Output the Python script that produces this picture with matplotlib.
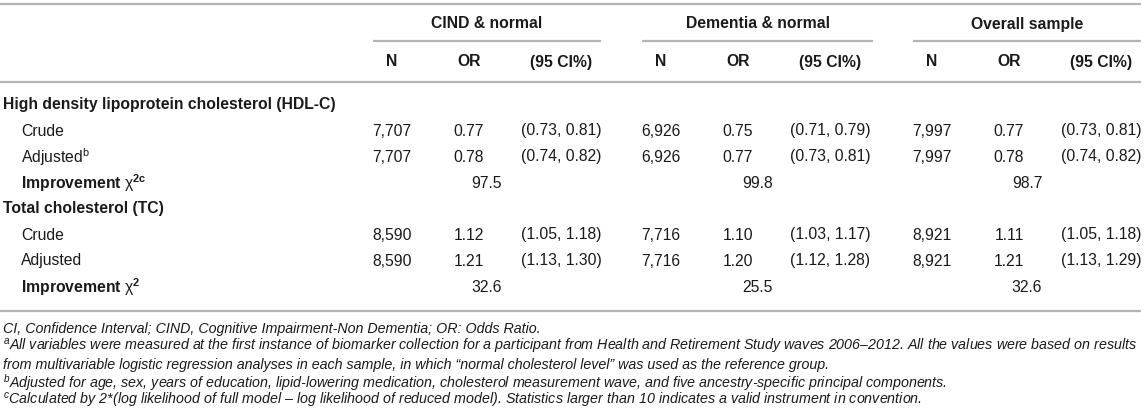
import matplotlib
matplotlib.use("Agg")
import matplotlib.pyplot as plt

plt.rcParams['font.family'] = ['Liberation Sans', 'DejaVu Sans']
plt.rcParams['mathtext.fontset'] = 'custom'
plt.rcParams['mathtext.rm'] = 'Liberation Sans'
plt.rcParams['mathtext.it'] = 'Liberation Sans:italic'
plt.rcParams['mathtext.bf'] = 'Liberation Sans:bold'

# ---------------- data ----------------
groups = ["CIND & normal", "Dementia & normal", "Overall sample"]
col_heads = ["N", "OR", "(95 CI%)"]

hdl_crude_n = [7707, 6926, 7997]
hdl_crude_or = [0.77, 0.75, 0.77]
hdl_crude_lo = [0.73, 0.71, 0.73]
hdl_crude_hi = [0.81, 0.79, 0.81]

hdl_adj_n = [7707, 6926, 7997]
hdl_adj_or = [0.78, 0.77, 0.78]
hdl_adj_lo = [0.74, 0.73, 0.74]
hdl_adj_hi = [0.82, 0.81, 0.82]

hdl_chi2 = [97.5, 99.8, 98.7]

tc_crude_n = [8590, 7716, 8921]
tc_crude_or = [1.12, 1.10, 1.11]
tc_crude_lo = [1.05, 1.03, 1.05]
tc_crude_hi = [1.18, 1.17, 1.18]

tc_adj_n = [8590, 7716, 8921]
tc_adj_or = [1.21, 1.20, 1.21]
tc_adj_lo = [1.13, 1.12, 1.13]
tc_adj_hi = [1.30, 1.28, 1.29]

tc_chi2 = [32.6, 25.5, 32.6]

footnotes = [
    "CI, Confidence Interval; CIND, Cognitive Impairment-Non Dementia; OR: Odds Ratio.",
    r"$^{a}$All variables were measured at the first instance of biomarker collection for a participant from Health and Retirement Study waves 2006–2012. All the values were based on results",
    "from multivariable logistic regression analyses in each sample, in which \u201cnormal cholesterol level\u201d was used as the reference group.",
    r"$^{b}$Adjusted for age, sex, years of education, lipid-lowering medication, cholesterol measurement wave, and five ancestry-specific principal components.",
    r"$^{c}$Calculated by 2*(log likelihood of full model – log likelihood of reduced model). Statistics larger than 10 indicates a valid instrument in convention.",
]

# ---------------- layout ----------------
W, H = 1145, 420
fig = plt.figure(figsize=(W / 100, H / 100), dpi=100)
ax = fig.add_axes([0, 0, 1, 1])
ax.set_xlim(0, W)
ax.set_ylim(H, 0)
ax.axis('off')

TXT = '#1a1a1a'
RULE = '#b4b4b4'
FS = 11.3
FFS = 10.3

grp_start = [373, 642, 913]
grp_end = [601, 873, 1141]
col_off = [19, 96, 188]
RIGHT = 1141

y_grp = 24
y_uline = 41
y_head = 62
rows_y = [105, 131, 157, 183, 209, 235, 261, 287]
y_rule_top = 4
y_rule_head = 82
y_rule_bot = 311
foot_y = [329, 347, 365, 383, 401]

def hline(y, x0, x1):
    ax.plot([x0, x1], [y, y], color=RULE, lw=1.6, solid_capstyle='butt')

hline(y_rule_top, 0, RIGHT)
hline(y_rule_head, 0, RIGHT)
hline(y_rule_bot, 0, RIGHT)

for g, s, e in zip(groups, grp_start, grp_end):
    ax.text((s + e) / 2, y_grp, g, ha='center', va='center', fontsize=FS,
            fontweight='bold', color=TXT)
    hline(y_uline, s, e)
    for h, off in zip(col_heads, col_off):
        ax.text(s + off, y_head, h, ha='center', va='center', fontsize=FS,
                fontweight='bold', color=TXT)

# row labels
ax.text(3, rows_y[0], "High density lipoprotein cholesterol (HDL-C)", ha='left',
        va='center', fontsize=FS, fontweight='bold', color=TXT)
ax.text(21, rows_y[1], "Crude", ha='left', va='center', fontsize=FS, color=TXT)
ax.text(21, rows_y[2], r"Adjusted$^{\mathrm{b}}$", ha='left', va='center',
        fontsize=FS, color=TXT)
ax.text(21, rows_y[3], r"$\mathbf{Improvement}\ \mathrm{\chi}^{\mathbf{2c}}$", ha='left',
        va='center', fontsize=FS, color=TXT)
ax.text(3, rows_y[4], "Total cholesterol (TC)", ha='left', va='center',
        fontsize=FS, fontweight='bold', color=TXT)
ax.text(21, rows_y[5], "Crude", ha='left', va='center', fontsize=FS, color=TXT)
ax.text(21, rows_y[6], "Adjusted", ha='left', va='center', fontsize=FS, color=TXT)
ax.text(21, rows_y[7], r"$\mathbf{Improvement}\ \mathrm{\chi}^{\mathbf{2}}$", ha='left',
        va='center', fontsize=FS, color=TXT)

def data_row(y, ns, ors, los, his):
    for i, s in enumerate(grp_start):
        ax.text(s + col_off[0], y, f"{ns[i]:,}", ha='center', va='center',
                fontsize=FS, color=TXT)
        ax.text(s + col_off[1], y, f"{ors[i]:.2f}", ha='center', va='center',
                fontsize=FS, color=TXT)
        ax.text(s + col_off[2], y, f"({los[i]:.2f}, {his[i]:.2f})", ha='center',
                va='center', fontsize=FS, color=TXT)

def chi_row(y, vals):
    for i, (s, e) in enumerate(zip(grp_start, grp_end)):
        ax.text((s + e) / 2, y, f"{vals[i]:.1f}", ha='center', va='center',
                fontsize=FS, color=TXT)

data_row(rows_y[1], hdl_crude_n, hdl_crude_or, hdl_crude_lo, hdl_crude_hi)
data_row(rows_y[2], hdl_adj_n, hdl_adj_or, hdl_adj_lo, hdl_adj_hi)
chi_row(rows_y[3], hdl_chi2)
data_row(rows_y[5], tc_crude_n, tc_crude_or, tc_crude_lo, tc_crude_hi)
data_row(rows_y[6], tc_adj_n, tc_adj_or, tc_adj_lo, tc_adj_hi)
chi_row(rows_y[7], tc_chi2)

for y, t in zip(foot_y, footnotes):
    ax.text(3, y, t, ha='left', va='center', fontsize=FFS, style='italic',
            color=TXT)

fig.savefig("out.png", dpi=100)
